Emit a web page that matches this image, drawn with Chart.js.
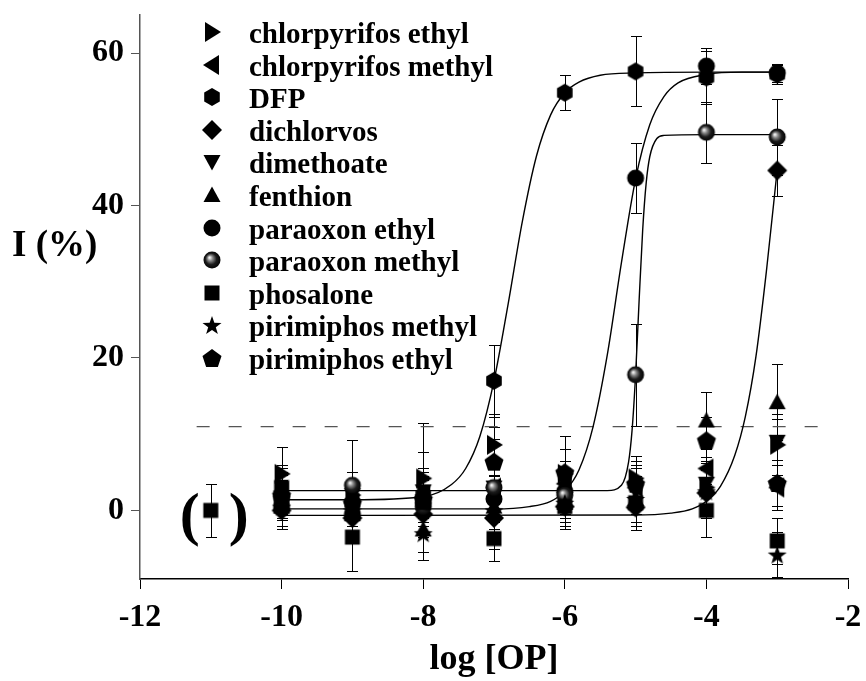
<!DOCTYPE html>
<html>
<head>
<meta charset="utf-8">
<script src="https://cdn.jsdelivr.net/npm/chart.js@4.4.0/dist/chart.umd.min.js"></script>
<style>
  html, body { margin: 0; padding: 0; background: #fff; }
</style>
</head>
<body>
<canvas id="chartOP" width="866" height="681"></canvas>
<script>
// log concentrations tested
var logConc = [-10, -9, -8, -7, -6, -5, -4, -3];

var seriesNames = ['chlorpyrifos ethyl', 'chlorpyrifos methyl', 'DFP', 'dichlorvos', 'dimethoate',
     'fenthion', 'paraoxon ethyl', 'paraoxon methyl', 'phosalone', 'pirimiphos methyl', 'pirimiphos ethyl'];
var seriesShapes = ['right', 'left', 'hexagon', 'diamond', 'down', 'up', 'circle', 'sphere', 'square', 'star', 'pentagon'];

// inhibition (%) and error per compound
var chlorpyrifosEthyl    = [4.8, 2.0, 4.2, 8.6, 4.8, 4.2, 3.0, 8.6];
var chlorpyrifosEthylErr = [3.5, 3.0, 3.5, 4.0, 5.0, 3.0, 4.0, 4.0];
var chlorpyrifosMethyl    = [2.5, 1.0, 2.0, 3.0, 3.5, 3.0, 5.5, 3.0];
var chlorpyrifosMethylErr = [3.0, 3.0, 3.0, 3.0, 3.0, 3.0, 3.0, 3.0];
var dfp    = [1.5, 1.0, 2.0, 17.0, 54.8, 57.6, 56.8, 57.2];
var dfpErr = [2.0, 3.0, 3.5, 4.7, 2.3, 4.6, 3.5, 1.2];
var dichlorvos    = [0.0, -1.0, -0.5, -1.0, 0.5, 0.4, 2.3, 44.6];
var dichlorvosErr = [2.0, 3.0, 3.0, 3.0, 3.0, 3.0, 3.0, 3.3];
var dimethoate    = [1.0, 2.0, 2.5, 3.0, 1.5, 2.5, 3.5, 9.0];
var dimethoateErr = [3.0, 3.0, 9.0, 3.0, 3.0, 3.0, 3.0, 3.0];
var fenthion    = [0.5, -0.5, -2.5, 0.5, 1.0, 1.5, 11.8, 14.2];
var fenthionErr = [3.0, 3.0, 3.0, 3.0, 3.0, 3.0, 3.7, 5.0];
var paraoxonEthyl    = [0.5, -0.5, 1.0, 1.5, 2.5, 43.6, 58.3, 57.4];
var paraoxonEthylErr = [3.0, 3.0, 3.0, 3.0, 3.0, 4.6, 2.4, 1.2];
var paraoxonMethyl    = [1.7, 3.3, 0.5, 3.0, 2.0, 17.8, 49.6, 49.0];
var paraoxonMethylErr = [3.0, 6.0, 4.0, 8.0, 3.0, 6.7, 4.0, 5.0];
var phosalone    = [3.0, -3.5, 1.0, -3.7, 0.5, 1.0, 0.0, -4.0];
var phosaloneErr = [3.0, 4.4, 3.0, 3.0, 3.0, 3.0, 3.5, 3.0];
var pirimiphosMethyl    = [0.5, 0.0, -3.0, 0.0, 1.0, 1.5, 2.5, -5.8];
var pirimiphosMethylErr = [3.0, 3.0, 2.5, 3.0, 3.0, 3.0, 3.0, 3.0];
var pirimiphosEthyl    = [2.0, 1.0, 1.5, 6.4, 5.0, 3.5, 9.2, 3.6];
var pirimiphosEthylErr = [3.0, 3.0, 3.0, 3.0, 3.0, 3.0, 3.0, 3.0];

// control, no OP
var controlX = [-11];
var controlY = [0];
var controlErr = [3.5];

// fitted curves
var dfpCurveX = [-10, -9, -8, -7.6, -7.4, -7.2, -7, -6.8, -6.6, -6.4, -6.2, -6, -5.8, -5.5, -5, -4, -3];
var dfpCurveY = [1.4, 1.4, 1.8, 3.4, 5.5, 9.7, 17.0, 27.1, 37.9, 46.5, 51.9, 54.8, 56.2, 57.1, 57.4, 57.5, 57.5];
var paraoxonEthylCurveX = [-10, -7, -6.5, -6.2, -6, -5.8, -5.6, -5.4, -5.2, -5, -4.8, -4.6, -4.4, -4, -3.5, -3];
var paraoxonEthylCurveY = [0.2, 0.2, 0.5, 1.2, 2.5, 5.3, 11.0, 20.4, 32.5, 43.5, 50.6, 54.3, 56.1, 57.2, 57.5, 57.5];
var paraoxonMethylCurveX = [-10, -6, -5.4, -5.2, -5.1, -5.05, -5, -4.95, -4.9, -4.85, -4.8, -4.7, -4.6, -4, -3];
var paraoxonMethylCurveY = [2.6, 2.6, 2.6, 3.3, 6.3, 10.5, 17.8, 27.6, 36.8, 43.0, 46.4, 48.8, 49.2, 49.3, 49.3];
var dichlorvosCurveX = [-10, -5, -4.5, -4.2, -4, -3.8, -3.6, -3.45, -3.3, -3.15, -3];
var dichlorvosCurveY = [-0.65, -0.6, -0.35, 0.2, 1.2, 3.2, 7.2, 12.3, 20.2, 31.6, 44.7];

// 11 % threshold
var thresholdX = [-11.2, -2.4];
var thresholdY = [11, 11];

var xTickValues = [-12, -10, -8, -6, -4, -2];
var yTickValues = [0, 20, 40, 60];

var seriesValues = [chlorpyrifosEthyl, chlorpyrifosMethyl, dfp, dichlorvos, dimethoate, fenthion,
     paraoxonEthyl, paraoxonMethyl, phosalone, pirimiphosMethyl, pirimiphosEthyl];
var seriesErrors = [chlorpyrifosEthylErr, chlorpyrifosMethylErr, dfpErr, dichlorvosErr, dimethoateErr, fenthionErr,
     paraoxonEthylErr, paraoxonMethylErr, phosaloneErr, pirimiphosMethylErr, pirimiphosEthylErr];

var serif = '"Liberation Serif", "Times New Roman", serif';

function makeMarker(shape) {
     var c = document.createElement('canvas');
     c.width = 24; c.height = 24;
     var g = c.getContext('2d');
     g.translate(12, 12);
     g.fillStyle = '#000';
     g.beginPath();
     var i, a;
     if (shape == 'right') { g.moveTo(-7, -10); g.lineTo(9, 0); g.lineTo(-7, 10); }
     else if (shape == 'left') { g.moveTo(7, -10); g.lineTo(-9, 0); g.lineTo(7, 10); }
     else if (shape == 'down') { g.moveTo(-8.5, -7); g.lineTo(8.5, -7); g.lineTo(0, 8.5); }
     else if (shape == 'up') { g.moveTo(-8.5, 7); g.lineTo(8.5, 7); g.lineTo(0, -8.5); }
     else if (shape == 'diamond') { g.moveTo(0, -10); g.lineTo(10, 0); g.lineTo(0, 10); g.lineTo(-10, 0); }
     else if (shape == 'square') { g.rect(-7.5, -7.5, 15, 15); }
     else if (shape == 'circle') { g.arc(0, 0, 8.5, 0, Math.PI * 2); }
     else if (shape == 'sphere') {
          var grad = g.createRadialGradient(-2.5, -2.5, 0.5, 0, 0, 9);
          grad.addColorStop(0, '#f4f4f4');
          grad.addColorStop(0.25, '#8a8a8a');
          grad.addColorStop(0.6, '#1c1c1c');
          grad.addColorStop(1, '#000');
          g.fillStyle = grad;
          g.arc(0, 0, 8.5, 0, Math.PI * 2);
     }
     else if (shape == 'hexagon') {
          for (i = 0; i < 6; i++) { a = -Math.PI / 2 + i * Math.PI / 3; g.lineTo(9 * Math.cos(a), 9 * Math.sin(a)); }
     }
     else if (shape == 'pentagon') {
          for (i = 0; i < 5; i++) { a = -Math.PI / 2 + i * 2 * Math.PI / 5; g.lineTo(10 * Math.cos(a), 10 * Math.sin(a) + 1); }
     }
     else if (shape == 'star') {
          for (i = 0; i < 10; i++) {
               a = -Math.PI / 2 + i * Math.PI / 5;
               var r = (i % 2 == 0) ? 10 : 4;
               g.lineTo(r * Math.cos(a), r * Math.sin(a) + 1);
          }
     }
     g.closePath();
     g.fill();
     return c;
}

function toPoints(xs, ys) {
     return xs.map(function (x, i) { return { x: x, y: ys[i] }; });
}

var markers = seriesShapes.map(makeMarker);

function curve(xs, ys) {
     return {
          data: toPoints(xs, ys), showLine: true, pointRadius: 0, borderColor: '#000',
          borderWidth: 1.4, cubicInterpolationMode: 'monotone', order: 2
     };
}

var datasets = [];
datasets.push(curve(dfpCurveX, dfpCurveY));
datasets.push(curve(paraoxonEthylCurveX, paraoxonEthylCurveY));
datasets.push(curve(paraoxonMethylCurveX, paraoxonMethylCurveY));
datasets.push(curve(dichlorvosCurveX, dichlorvosCurveY));
datasets.push({
     data: toPoints(thresholdX, thresholdY), showLine: true, pointRadius: 0,
     borderColor: '#555', borderWidth: 1.2, borderDash: [13, 19], order: 3
});
// later series sit on top, like the original
for (var s = seriesNames.length - 1; s >= 0; s--) {
     datasets.push({
          label: seriesNames[s], data: toPoints(logConc, seriesValues[s]), errors: seriesErrors[s],
          pointStyle: markers[s], pointRadius: 9, showLine: false, order: 1
     });
}
datasets.push({
     data: toPoints(controlX, controlY), errors: controlErr,
     pointStyle: markers[8], pointRadius: 9, showLine: false, order: 1
});

var errorBars = {
     id: 'errorBars',
     beforeDatasetsDraw: function (chart) {
          var ctx = chart.ctx, xs = chart.scales.x, ys = chart.scales.y;
          ctx.save();
          ctx.strokeStyle = '#000';
          ctx.lineWidth = 1;
          chart.data.datasets.forEach(function (ds) {
               if (!ds.errors) return;
               ds.data.forEach(function (p, i) {
                    var e = ds.errors[i];
                    var px = Math.round(xs.getPixelForValue(p.x)) + 0.5;
                    var yt = Math.round(ys.getPixelForValue(p.y + e)) + 0.5;
                    var yb = Math.round(ys.getPixelForValue(p.y - e)) + 0.5;
                    ctx.beginPath();
                    ctx.moveTo(px, yt); ctx.lineTo(px, yb);
                    ctx.moveTo(px - 5.5, yt); ctx.lineTo(px + 5.5, yt);
                    ctx.moveTo(px - 5.5, yb); ctx.lineTo(px + 5.5, yb);
                    ctx.stroke();
               });
          });
          ctx.restore();
     }
};

var extras = {
     id: 'extras',
     afterDraw: function (chart) {
          var ctx = chart.ctx;
          ctx.save();
          ctx.fillStyle = '#000';
          // legend
          ctx.font = 'bold 29px ' + serif;
          ctx.textAlign = 'left';
          ctx.textBaseline = 'alphabetic';
          for (var i = 0; i < seriesNames.length; i++) {
               var rowY = 32 + i * 32.6;
               ctx.drawImage(markers[i], 212 - 12, Math.round(rowY) - 12);
               ctx.fillText(seriesNames[i], 249, rowY + 11);
          }
          // y title, horizontal
          ctx.font = 'bold 37px ' + serif;
          ctx.fillText('I (%)', 12, 256);
          // brackets round the control
          var cx = chart.scales.x.getPixelForValue(controlX[0]);
          ctx.font = 'bold 60px ' + serif;
          ctx.textAlign = 'center';
          ctx.fillText('(', cx - 21, 534);
          ctx.fillText(')', cx + 28, 534);
          ctx.restore();
     }
};

var config = {
     type: 'scatter',
     data: { datasets: datasets },
     plugins: [errorBars, extras],
     options: {
          responsive: false,
          animation: false,
          events: [],
          layout: { padding: { left: 0, right: 18, top: 15, bottom: 0 } },
          plugins: { legend: { display: false }, tooltip: { enabled: false } },
          scales: {
               x: {
                    type: 'linear', min: -12, max: -2,
                    afterBuildTicks: function (scale) { scale.ticks = xTickValues.map(function (v) { return { value: v }; }); },
                    afterFit: function (scale) {
                         scale.height = 102;
                         scale.paddingLeft = 0; scale.paddingRight = 0;
                    },
                    grid: { display: true, drawOnChartArea: false, drawTicks: true, tickLength: 10, color: '#000' },
                    border: { display: true, color: '#000', width: 1.5 },
                    ticks: { color: '#000', padding: 10, maxRotation: 0, font: { family: serif, size: 32, weight: 'bold' } },
                    title: { display: true, text: 'log [OP]', color: '#000', padding: { top: 0, bottom: 0 },
                         font: { family: serif, size: 36, weight: 'bold' } }
               },
               y: {
                    type: 'linear', min: -9, max: 65,
                    afterBuildTicks: function (scale) { scale.ticks = yTickValues.map(function (v) { return { value: v }; }); },
                    afterFit: function (scale) {
                         scale.width = 140;
                         scale.paddingTop = 0; scale.paddingBottom = 0;
                    },
                    grid: { display: true, drawOnChartArea: false, drawTicks: true, tickLength: 9, color: '#555' },
                    border: { display: true, color: '#555', width: 1.5 },
                    ticks: { color: '#000', padding: 7, font: { family: serif, size: 32, weight: 'bold' } }
               }
          }
     }
};

window.onload = function () {
     var ctx = document.getElementById('chartOP').getContext('2d');
     window.opChart = new Chart(ctx, config);
};
</script>
</body>
</html>
